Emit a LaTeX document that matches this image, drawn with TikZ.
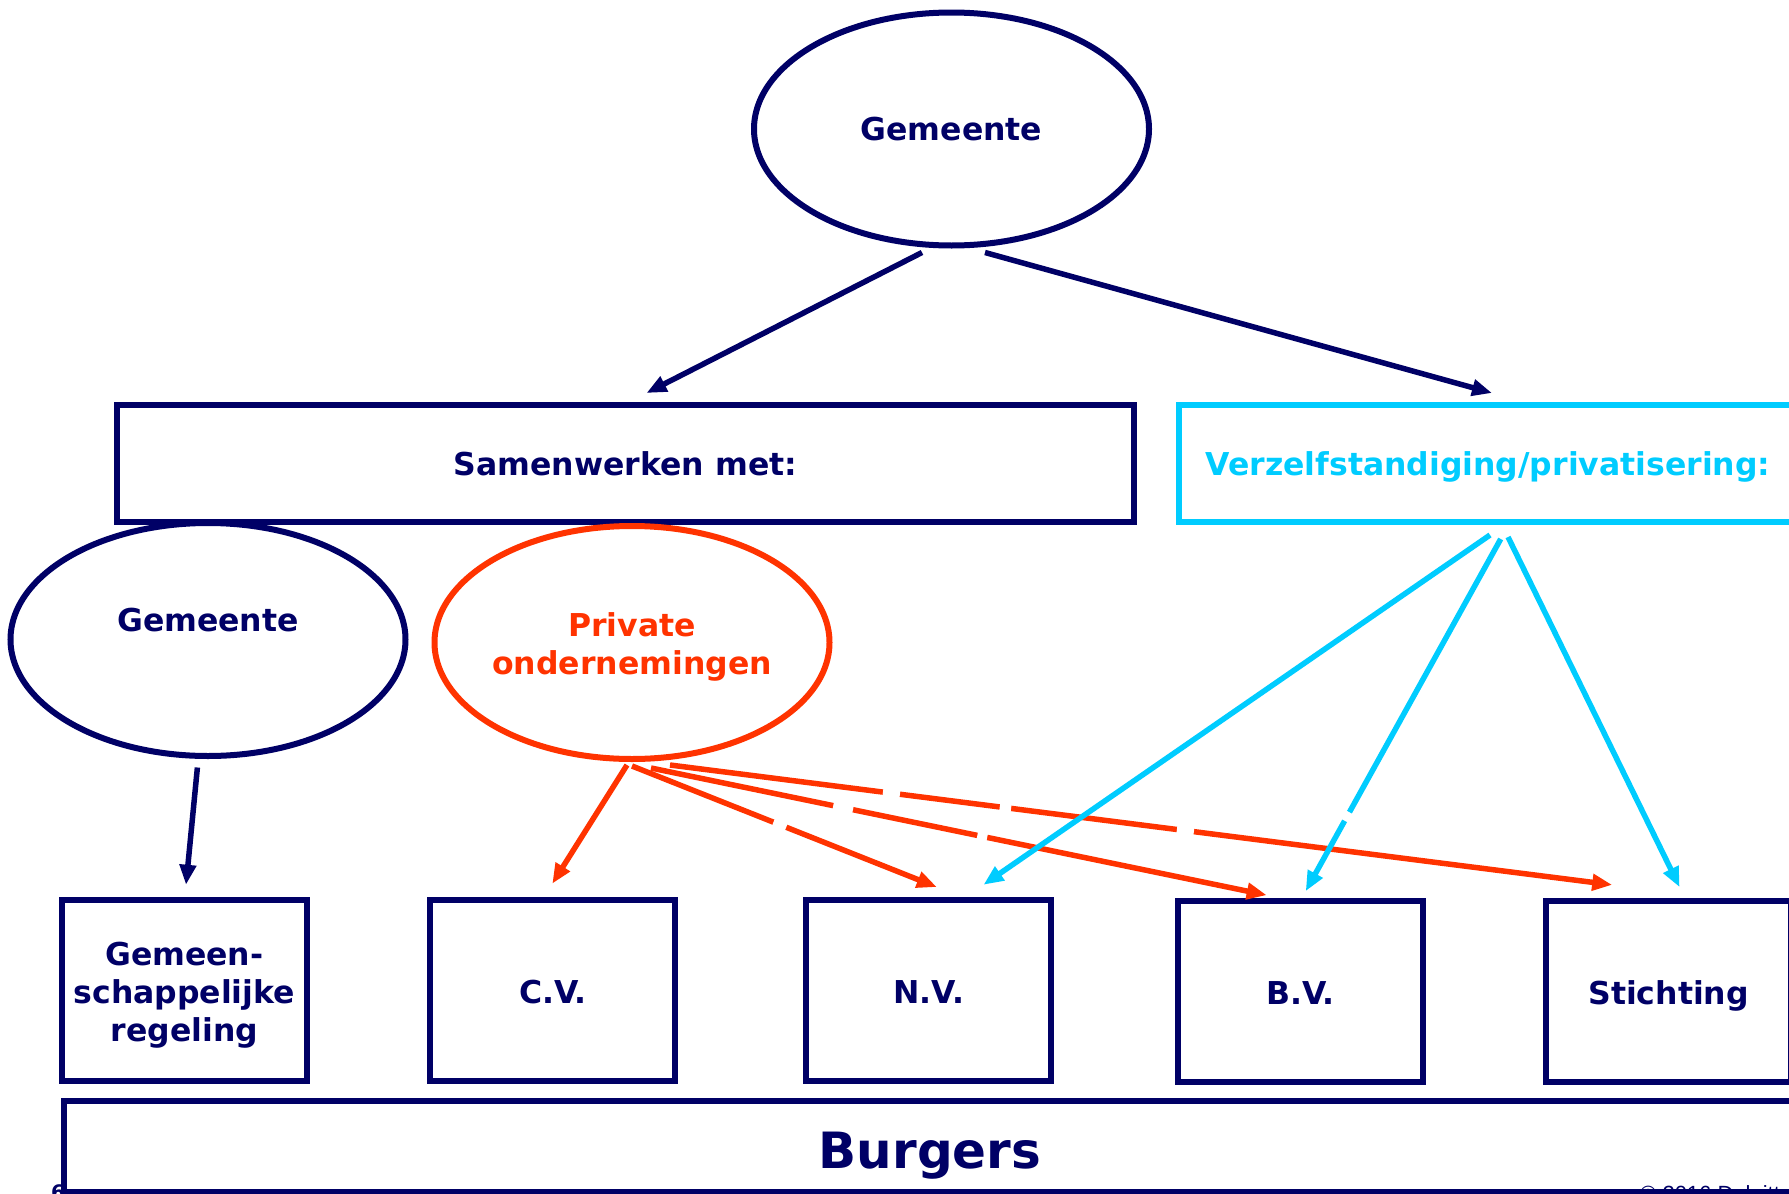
\documentclass[tikz,border=0pt]{standalone}
\usepackage{fontspec}
\setmainfont{DejaVu Sans}
\newfontfamily\footfont{Liberation Sans}
\usetikzlibrary{shapes.geometric,arrows.meta,calc}
\definecolor{navy}{RGB}{0,0,102}
\definecolor{cyanb}{RGB}{0,204,255}
\definecolor{redo}{RGB}{255,51,0}
\begin{document}
\begin{tikzpicture}[x=1pt,y=-1pt,
  ellnode/.style={ellipse, draw=#1, line width=6pt, minimum width=395pt, minimum height=233pt, inner sep=0pt},
  boxnode/.style={rectangle, draw=#1, line width=6pt, inner sep=0pt},
  lab/.style={font=\bfseries\fontsize{31.5}{38}\selectfont, text=#1, anchor=base, inner sep=0pt},
  arr/.style={draw=#1, line width=5.5pt, -{Triangle[length=20pt,width=16pt]}},
  gapcut/.style={draw=white, line width=9.5pt},
]
\useasboundingbox (0,0) rectangle (1789,1194);
\clip (0,0) rectangle (1789,1194);
\fill[white] (0,0) rectangle (1789,1194);

% footer
\node[font=\bfseries\fontsize{20}{24}\selectfont, text=navy, anchor=base west, inner sep=0pt] (pagenum) at (51,1199) {6};
\node[font=\footfont\fontsize{22}{26}\selectfont, text=navy, anchor=base west, inner sep=0pt] (copy) at (1640,1201) {© 2016 Deloitte};

% shapes
\node[ellnode=navy] (g1) at (951.5,129) {};
\node[boxnode=navy, minimum width=1017pt, minimum height=117pt] (sam) at (625.5,463.5) {};
\node[boxnode=cyanb, minimum width=618pt, minimum height=117pt] (verz) at (1488,463.5) {};
\node[ellnode=navy] (g2) at (208,639.5) {};
\node[ellnode=redo] (pr) at (632,642.5) {};
\node[boxnode=navy, minimum width=245pt, minimum height=180.5pt] (reg) at (184.3,990.3) {};
\node[boxnode=navy, minimum width=245pt, minimum height=180.5pt] (cv) at (552.8,990.3) {};
\node[boxnode=navy, minimum width=245pt, minimum height=180.5pt] (nv) at (928.8,990.3) {};
\node[boxnode=navy, minimum width=245pt, minimum height=180.5pt] (bv) at (1300.7,991.4) {};
\node[boxnode=navy, minimum width=245pt, minimum height=180.5pt] (st) at (1668.6,991.4) {};
\node[boxnode=navy, minimum width=1732pt, minimum height=91pt] (burg) at (930,1146.5) {};

% navy arrows
\draw[arr=navy] ([xshift=-29.5pt,yshift=-4pt]g1.south) -- ([xshift=21pt,yshift=9pt]sam.north);
\draw[arr=navy] ([xshift=33.5pt,yshift=-4pt]g1.south) -- ([xshift=4pt,yshift=9pt]verz.north);
\draw[arr=navy] ([xshift=-10.6pt,yshift=-8.5pt]g2.south) -- ([xshift=1.7pt,yshift=12.3pt]reg.north);

% red arrows
\draw[arr=redo] ([xshift=-5pt,yshift=-3pt]pr.south) -- ([xshift=-0.5pt,yshift=13.4pt]cv.north);
\draw[arr=redo] ([xshift=0pt,yshift=-4pt]pr.south) -- ([xshift=8pt,yshift=10pt]nv.north);
\draw[arr=redo] ([xshift=19pt,yshift=-6pt]pr.south) -- ([xshift=-34pt,yshift=3pt]bv.north);
\draw[arr=redo] ([xshift=38pt,yshift=-3pt]pr.south) -- ([xshift=-56.4pt,yshift=13.3pt]st.north);

% white breaks in the red lines
\draw[gapcut] ($([xshift=0pt,yshift=-4pt]pr.south)!0.464!([xshift=8pt,yshift=10pt]nv.north)$) -- ($([xshift=0pt,yshift=-4pt]pr.south)!0.506!([xshift=8pt,yshift=10pt]nv.north)$);
\draw[gapcut] ($([xshift=19pt,yshift=-6pt]pr.south)!0.296!([xshift=-34pt,yshift=3pt]bv.north)$) -- ($([xshift=19pt,yshift=-6pt]pr.south)!0.328!([xshift=-34pt,yshift=3pt]bv.north)$);
\draw[gapcut] ($([xshift=19pt,yshift=-6pt]pr.south)!0.530!([xshift=-34pt,yshift=3pt]bv.north)$) -- ($([xshift=19pt,yshift=-6pt]pr.south)!0.546!([xshift=-34pt,yshift=3pt]bv.north)$);
\draw[gapcut] ($([xshift=38pt,yshift=-3pt]pr.south)!0.226!([xshift=-56.4pt,yshift=13.3pt]st.north)$) -- ($([xshift=38pt,yshift=-3pt]pr.south)!0.244!([xshift=-56.4pt,yshift=13.3pt]st.north)$);
\draw[gapcut] ($([xshift=38pt,yshift=-3pt]pr.south)!0.350!([xshift=-56.4pt,yshift=13.3pt]st.north)$) -- ($([xshift=38pt,yshift=-3pt]pr.south)!0.362!([xshift=-56.4pt,yshift=13.3pt]st.north)$);
\draw[gapcut] ($([xshift=38pt,yshift=-3pt]pr.south)!0.538!([xshift=-56.4pt,yshift=13.3pt]st.north)$) -- ($([xshift=38pt,yshift=-3pt]pr.south)!0.556!([xshift=-56.4pt,yshift=13.3pt]st.north)$);

% cyan arrows
\draw[arr=cyanb] ([xshift=2pt,yshift=-10pt]verz.south) -- ([xshift=54.7pt,yshift=12.3pt]nv.north);
\draw[arr=cyanb] ([xshift=12.7pt,yshift=-14pt]verz.south) -- ([xshift=5pt,yshift=7pt]bv.north);
\draw[arr=cyanb] ([xshift=20pt,yshift=-12pt]verz.south) -- ([xshift=11pt,yshift=11pt]st.north);
\draw[gapcut] ($([xshift=12.7pt,yshift=-14pt]verz.south)!0.776!([xshift=5pt,yshift=7pt]bv.north)$) -- ($([xshift=12.7pt,yshift=-14pt]verz.south)!0.800!([xshift=5pt,yshift=7pt]bv.north)$);

% labels
\node[lab=navy] (tg1) at (951.5,140) {Gemeente};
\node[lab=navy] (tsam) at (625.5,475) {Samenwerken met:};
\node[lab=cyanb] (tverz) at (1488,475) {Verzelfstandiging/privatisering:};
\node[lab=navy] (tg2) at (208,631) {Gemeente};
\node[lab=redo] (tpr1) at (632,636) {Private};
\node[lab=redo] (tpr2) at (632,674) {ondernemingen};
\node[lab=navy] (treg1) at (184.3,965) {Gemeen-};
\node[lab=navy] (treg2) at (184.3,1003) {schappelijke};
\node[lab=navy] (treg3) at (184.3,1041) {regeling};
\node[lab=navy] (tcv) at (552.8,1003) {C.V.};
\node[lab=navy] (tnv) at (928.8,1003) {N.V.};
\node[lab=navy] (tbv) at (1300.7,1004) {B.V.};
\node[lab=navy] (tst) at (1668.6,1004) {Stichting};
\node[lab=navy, font=\bfseries\fontsize{50}{60}\selectfont] (tburg) at (930,1168) {Burgers};
\end{tikzpicture}
\end{document}
